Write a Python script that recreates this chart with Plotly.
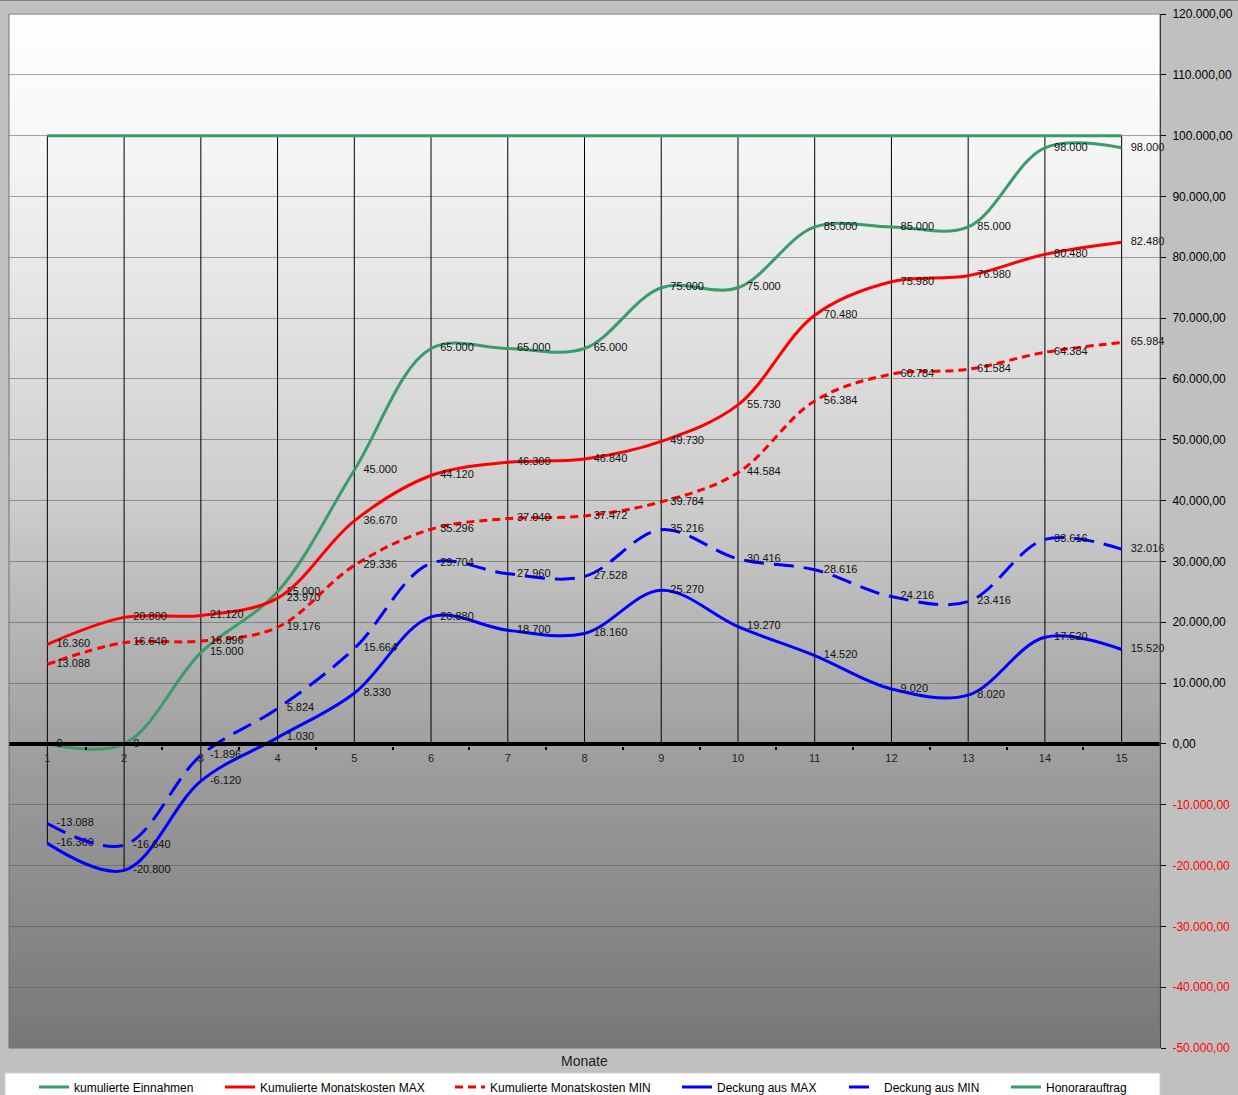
import plotly.graph_objects as go

# ---------------- data ----------------
monate = [1, 2, 3, 4, 5, 6, 7, 8, 9, 10, 11, 12, 13, 14, 15]
kumulierte_einnahmen = [0, 0, 15000, 25000, 45000, 65000, 65000, 65000, 75000, 75000, 85000, 85000, 85000, 98000, 98000]
kosten_max = [16360, 20800, 21120, 23970, 36670, 44120, 46300, 46840, 49730, 55730, 70480, 75980, 76980, 80480, 82480]
kosten_min = [13088, 16640, 16896, 19176, 29336, 35296, 37040, 37472, 39784, 44584, 56384, 60784, 61584, 64384, 65984]
deckung_max = [-16360, -20800, -6120, 1030, 8330, 20880, 18700, 18160, 25270, 19270, 14520, 9020, 8020, 17520, 15520]
deckung_min = [-13088, -16640, -1896, 5824, 15664, 29704, 27960, 27528, 35216, 30416, 28616, 24216, 23416, 33616, 32016]
honorarauftrag = [100000, 100000, 100000, 100000, 100000, 100000, 100000, 100000, 100000, 100000, 100000, 100000, 100000, 100000, 100000]
y_tickvals = [-50000, -40000, -30000, -20000, -10000, 0, 10000, 20000, 30000, 40000, 50000, 60000, 70000, 80000, 90000, 100000, 110000, 120000]
series_names = ["kumulierte Einnahmen", "Kumulierte Monatskosten MAX", "Kumulierte Monatskosten MIN",
                "Deckung aus MAX", "Deckung aus MIN", "Honorarauftrag"]

# ---------------- helpers ----------------
W, H = 1238, 1095
ML, MR, MT, MB = 9, 78, 14, 47
PW = W - ML - MR
PH = H - MT - MB


def px_x(px):
    return (px - ML) / PW


def px_y(py):
    return (H - MB - py) / PH


def de_int(v):
    return f"{v:,}".replace(",", ".")


def de_tick(v):
    s = f"{abs(v):,.2f}".replace(",", "X").replace(".", ",").replace("X", ".")
    if v < 0:
        return f"<span style='color:#ff0000'>-{s}</span>"
    return s


GREEN = "#3a9b6b"
RED = "#ff0000"
BLUE = "#0000ff"

fig = go.Figure()

# drop lines (from highest value down to axis / lowest value)
all_series = [kumulierte_einnahmen, kosten_max, kosten_min, deckung_max, deckung_min, honorarauftrag]
dx, dy = [], []
for i, m in enumerate(monate):
    vals = [s[i] for s in all_series]
    dx += [m, m, None]
    dy += [max(0, max(vals)), min(0, min(vals)), None]
fig.add_trace(go.Scatter(x=dx, y=dy, mode="lines", line=dict(color="#000000", width=1),
                         showlegend=False, hoverinfo="skip"))

label_font = dict(family="Liberation Sans, Arial, sans-serif", size=11, color="#111111")


def add_series(name, values, color, dash, legend, labels=True):
    fig.add_trace(go.Scatter(
        x=monate, y=values, name=name,
        mode="lines+markers+text" if labels else "lines",
        line=dict(color=color, width=3, dash=dash, shape="spline", smoothing=1.0),
        marker=dict(size=13, color="rgba(0,0,0,0)", line=dict(width=0)),
        text=[de_int(v) for v in values] if labels else None,
        textposition="middle right",
        textfont=label_font,
        legend=legend,
        cliponaxis=False,
    ))


add_series(series_names[0], kumulierte_einnahmen, GREEN, "solid", "legend")
add_series(series_names[1], kosten_max, RED, "solid", "legend2")
add_series(series_names[2], kosten_min, RED, "8px,5px", "legend3")
add_series(series_names[3], deckung_max, BLUE, "solid", "legend4")
add_series(series_names[4], deckung_min, BLUE, "20px,10px", "legend5")
fig.add_trace(go.Scatter(x=monate, y=honorarauftrag, name=series_names[5], mode="lines",
                         line=dict(color=GREEN, width=3), legend="legend6"))

# gradient background stripes
shapes = []
anchors = [(0.0, 255), (0.117, 247), (0.47, 205), (0.706, 160), (1.0, 119)]


def grad(f):
    for (f0, c0), (f1, c1) in zip(anchors[:-1], anchors[1:]):
        if f0 <= f <= f1:
            return c0 + (c1 - c0) * (f - f0) / (f1 - f0)
    return anchors[-1][1]


N = 160
for k in range(N):
    f = (k + 0.5) / N
    c = int(round(grad(f)))
    shapes.append(dict(type="rect", xref="paper", yref="paper", x0=0, x1=1,
                       y0=1 - (k + 1) / N, y1=1 - k / N + 0.0005,
                       fillcolor=f"rgb({c},{c},{c})", line=dict(width=0), layer="below"))

# plot border
shapes.append(dict(type="rect", xref="paper", yref="paper", x0=0, x1=1, y0=0, y1=1,
                   line=dict(color="#707070", width=1), fillcolor="rgba(0,0,0,0)", layer="above"))
# legend white box
shapes.append(dict(type="rect", xref="paper", yref="paper", x0=px_x(5), x1=px_x(1160),
                   y0=px_y(1100), y1=px_y(1073), fillcolor="#ffffff",
                   line=dict(color="#d0d0d0", width=1), layer="below"))
# page top line
shapes.append(dict(type="line", xref="paper", yref="paper", x0=px_x(0), x1=px_x(W),
                   y0=px_y(0.5), y1=px_y(0.5), line=dict(color="#808080", width=1)))

legend_text_starts = [75, 261, 491, 718, 885, 1047]
legend_common = dict(orientation="h", bgcolor="rgba(0,0,0,0)", borderwidth=0,
                     font=dict(family="Liberation Sans, Arial, sans-serif", size=12, color="#000000"),
                     xanchor="left", yanchor="middle", y=px_y(1087), itemwidth=30)
legends = {}
for i, ts in enumerate(legend_text_starts):
    key = "legend" if i == 0 else f"legend{i + 1}"
    legends[key] = dict(x=px_x(ts - 41), **legend_common)

fig.update_layout(
    width=W, height=H, autosize=False,
    margin=dict(l=ML, r=MR, t=MT, b=MB, autoexpand=False),
    paper_bgcolor="#c0c0c0",
    plot_bgcolor="rgba(0,0,0,0)",
    separators=",.",
    font=dict(family="Liberation Sans, Arial, sans-serif", size=12, color="#000000"),
    shapes=shapes,
    xaxis=dict(
        type="linear", range=[0.5, 15.5], tickmode="array", tickvals=monate,
        ticktext=[str(m) for m in monate],
        showgrid=False, zeroline=False,
        showline=True, linecolor="#000000", linewidth=4,
        anchor="free", position=50000 / 170000,
        ticks="", tickfont=dict(size=11, color="#222222"),
        ticklabelstandoff=3,
    ),
    xaxis2=dict(
        overlaying="x", range=[0.5, 15.5], tickmode="array",
        tickvals=[m + 0.5 for m in monate[:-1]], showticklabels=False,
        ticks="outside", ticklen=3, tickwidth=2, tickcolor="#000000",
        showgrid=False, zeroline=False, showline=False,
        anchor="free", position=50000 / 170000 - 0.002,
    ),
    yaxis=dict(
        range=[-50000, 120000], side="right", tickmode="array",
        tickvals=y_tickvals, ticktext=[de_tick(v) for v in y_tickvals],
        showgrid=True, gridcolor="rgba(90,90,90,0.55)", gridwidth=1,
        zeroline=False, showline=True, linecolor="#000000", linewidth=1,
        ticks="outside", ticklen=5, tickcolor="#000000",
        tickfont=dict(size=12, color="#000000"),
        ticklabelstandoff=4,
    ),
    annotations=[dict(text="Monate", xref="paper", yref="paper", x=px_x(584), y=px_y(1061),
                      showarrow=False, font=dict(size=14, color="#222222"),
                      xanchor="center", yanchor="middle")],
    **legends,
)
# dummy trace for xaxis2 ticks
fig.add_trace(go.Scatter(x=[1], y=[0], xaxis="x2", mode="markers", marker=dict(opacity=0),
                         showlegend=False, hoverinfo="skip"))

fig.write_html("out.html")
